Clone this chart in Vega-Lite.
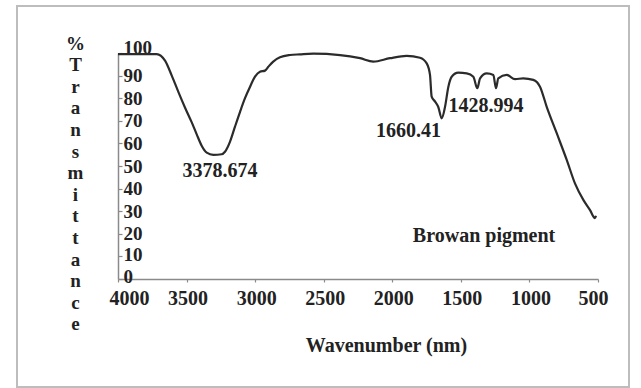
{
  "$schema": "https://vega.github.io/schema/vega-lite/v6.json",
  "autosize": "none",
  "padding": {"left": 17, "top": 6, "right": 12, "bottom": 1},
  "width": 612,
  "height": 381,
  "background": "white",
  "config": {
    "view": {"stroke": "#bdbdbd", "strokeWidth": 2},
    "font": "Liberation Serif"
  },
  "datasets": {
    "spectrum": [
      {"wn": 4000, "t": 99.5}, {"wn": 3718, "t": 99.5}, {"wn": 3657, "t": 96.6}, {"wn": 3608, "t": 90.0},
      {"wn": 3560, "t": 82.8}, {"wn": 3511, "t": 75.8}, {"wn": 3463, "t": 69.4}, {"wn": 3426, "t": 64.0},
      {"wn": 3390, "t": 59.0}, {"wn": 3353, "t": 55.9}, {"wn": 3305, "t": 54.9}, {"wn": 3244, "t": 55.2},
      {"wn": 3220, "t": 56.3}, {"wn": 3183, "t": 60.8}, {"wn": 3147, "t": 67.4}, {"wn": 3110, "t": 74.0},
      {"wn": 3074, "t": 80.0}, {"wn": 3037, "t": 85.1}, {"wn": 3001, "t": 89.5}, {"wn": 2965, "t": 91.7},
      {"wn": 2928, "t": 92.2}, {"wn": 2904, "t": 93.9}, {"wn": 2868, "t": 96.2}, {"wn": 2819, "t": 98.1},
      {"wn": 2746, "t": 99.1}, {"wn": 2673, "t": 99.4}, {"wn": 2576, "t": 99.7}, {"wn": 2381, "t": 99.1},
      {"wn": 2235, "t": 97.7}, {"wn": 2138, "t": 96.2}, {"wn": 2017, "t": 97.7}, {"wn": 1895, "t": 98.7},
      {"wn": 1798, "t": 97.9}, {"wn": 1749, "t": 95.4}, {"wn": 1725, "t": 90.3}, {"wn": 1713, "t": 80.7},
      {"wn": 1688, "t": 78.5}, {"wn": 1664, "t": 76.0}, {"wn": 1640, "t": 71.1}, {"wn": 1616, "t": 76.0},
      {"wn": 1591, "t": 85.1}, {"wn": 1567, "t": 89.5}, {"wn": 1519, "t": 91.3}, {"wn": 1457, "t": 91.0},
      {"wn": 1409, "t": 89.5}, {"wn": 1380, "t": 84.4}, {"wn": 1360, "t": 88.8}, {"wn": 1311, "t": 91.0},
      {"wn": 1263, "t": 90.3}, {"wn": 1244, "t": 84.4}, {"wn": 1227, "t": 88.8}, {"wn": 1166, "t": 90.3},
      {"wn": 1105, "t": 88.4}, {"wn": 1045, "t": 88.8}, {"wn": 972, "t": 88.1}, {"wn": 923, "t": 85.1},
      {"wn": 874, "t": 76.2}, {"wn": 801, "t": 64.5}, {"wn": 728, "t": 52.7}, {"wn": 668, "t": 42.3},
      {"wn": 607, "t": 35.0}, {"wn": 558, "t": 30.5}, {"wn": 522, "t": 26.9}, {"wn": 515, "t": 28.0}
    ],
    "labels": [
      {"wn": 3256, "t": 47.8, "label": "3378.674"},
      {"wn": 1882, "t": 65.5, "label": "1660.41"},
      {"wn": 1317, "t": 76.5, "label": "1428.994"},
      {"wn": 1331, "t": 19.0, "label": "Browan pigment"}
    ]
  },
  "layer": [
    {
      "data": {"name": "spectrum"},
      "mark": {"type": "line", "color": "#2b2b2b", "strokeWidth": 2.2, "interpolate": "monotone"},
      "encoding": {
        "x": {
          "field": "wn", "type": "quantitative",
          "scale": {"domain": [4000, 500], "range": [101, 581], "nice": false, "zero": false},
          "axis": {
            "orient": "bottom", "offset": -108,
            "values": [4000, 3500, 3000, 2500, 2000, 1500, 1000, 500], "tickCount": 20,
            "format": "d", "grid": false,
            "domainColor": "#8a8a8a", "domainWidth": 1.5,
            "tickColor": "#8a8a8a", "tickSize": 3, "tickWidth": 1.2,
            "labelPadding": 6, "labelFlush": false, "labelOverlap": false,
            "labelOffset": {"condition": [{"test": "datum.value === 4000", "value": 11}, {"test": "datum.value === 500", "value": -5}], "value": 1},
            "labelFont": "Liberation Serif", "labelFontSize": 20, "labelFontWeight": "bold", "labelColor": "#222222",
            "title": "Wavenumber (nm)", "titleX": 369, "titleY": 72,
            "titleAlign": "center", "titleBaseline": "alphabetic",
            "titleFont": "Liberation Serif", "titleFontSize": 20, "titleFontWeight": "bold", "titleColor": "#222222"
          }
        },
        "y": {
          "field": "t", "type": "quantitative",
          "scale": {"domain": [0, 100], "range": [273, 47], "nice": false, "zero": false},
          "axis": {
            "orient": "left", "offset": -101,
            "values": [0, 10, 20, 30, 40, 50, 60, 70, 80, 90, 100], "tickCount": 20,
            "grid": false,
            "domainColor": "#8a8a8a", "domainWidth": 1.5,
            "tickColor": "#8a8a8a", "tickSize": -4, "tickWidth": 1.2,
            "labelAlign": "left", "labelPadding": -1, "labelFlush": false, "labelOverlap": false,
            "labelBaseline": {"condition": {"test": "datum.value === 0 || datum.value === 100", "value": "alphabetic"}, "value": "middle"},
            "labelOffset": {"condition": [{"test": "datum.value === 0", "value": 3}, {"test": "datum.value === 10", "value": -1.5}], "value": 0},
            "labelFont": "Liberation Serif", "labelFontSize": 19, "labelFontWeight": "bold", "labelColor": "#222222",
            "title": ["%", "T", "r", "a", "n", "s", "m", "i", "t", "t", "a", "n", "c", "e"],
            "titleAngle": 0, "titleX": -43, "titleY": 28,
            "titleAlign": "center", "titleBaseline": "top", "titleLineHeight": 21.6,
            "titleFont": "Liberation Serif", "titleFontSize": 19, "titleFontWeight": "bold", "titleColor": "#222222"
          }
        }
      }
    },
    {
      "data": {"name": "labels"},
      "mark": {"type": "text", "font": "Liberation Serif", "fontSize": 20, "fontWeight": "bold", "color": "#222222", "align": "center", "baseline": "middle"},
      "encoding": {
        "x": {"field": "wn", "type": "quantitative"},
        "y": {"field": "t", "type": "quantitative"},
        "text": {"field": "label", "type": "nominal"}
      }
    }
  ]
}
